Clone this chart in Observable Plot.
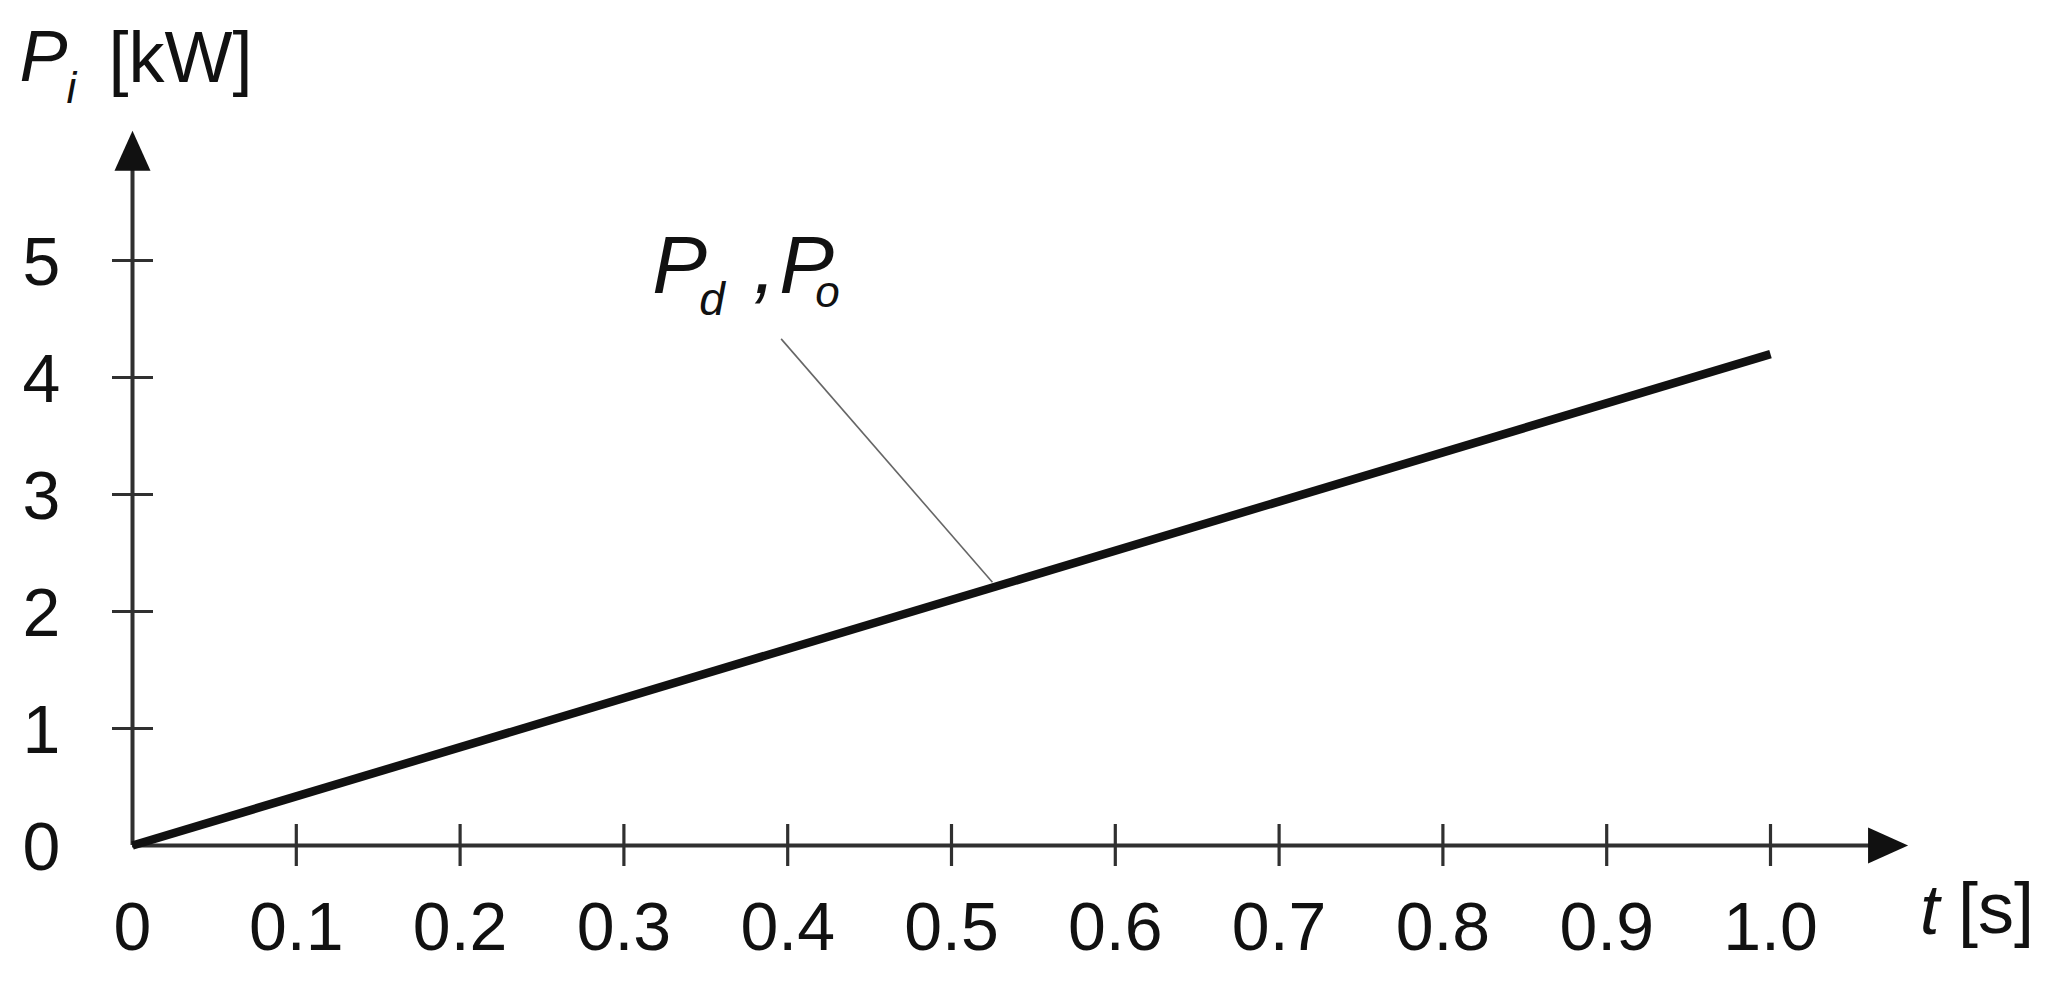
<!DOCTYPE html>
<html>
<head>
<meta charset="utf-8">
<script src="https://cdn.jsdelivr.net/npm/d3@7"></script>
<script src="https://cdn.jsdelivr.net/npm/@observablehq/plot@0.6"></script>
<style>
  html, body { margin: 0; padding: 0; background: #ffffff; }
  #chart svg { display: block; }
</style>
</head>
<body>
<div id="chart"></div>
<script>
// ---- data ----
const timeValues = [0, 1.0];          // t [s]
const powerValues = [0, 4.2];         // P_d, P_o [kW]
const xTickValues = [0.1, 0.2, 0.3, 0.4, 0.5, 0.6, 0.7, 0.8, 0.9, 1.0];
const xTickLabelValues = [0, 0.1, 0.2, 0.3, 0.4, 0.5, 0.6, 0.7, 0.8, 0.9, 1.0];
const xTickLabels = ["0", "0.1", "0.2", "0.3", "0.4", "0.5", "0.6", "0.7", "0.8", "0.9", "1.0"];
const yTickValues = [1, 2, 3, 4, 5];
const yTickLabelValues = [0, 1, 2, 3, 4, 5];
const yTickLabels = ["0", "1", "2", "3", "4", "5"];
const xAxisExtent = [0, 1.084];       // axis arrow tip
const yAxisExtent = [0, 6.11];        // axis arrow tip
const xAxisTitle = ["t", "[s]"];
const yAxisTitle = ["P", "i", "[kW]"];
const seriesLabel = ["P", "d", ",", "P", "o"];
const leaderStart = [0.396, 4.33];
const leaderEnd = [0.525, 2.25];

// ---- build ----
const curve = timeValues.map((t, i) => ({t, p: powerValues[i]}));
const FONT = "'Liberation Sans', Arial, Helvetica, sans-serif";
const AXIS = "#303030";

// filled arrowhead symbol: tip at the origin, pointing up
const arrowHead = {
  draw(ctx) {
    const L = 40, W = 36;
    ctx.moveTo(0, 0);
    ctx.lineTo(W / 2, L);
    ctx.lineTo(-W / 2, L);
    ctx.closePath();
  }
};

const xTip = xAxisExtent[1], yTip = yAxisExtent[1];
const txt = (extra) => Object.assign({text: d => d, textAnchor: "start", lineAnchor: "bottom", fontFamily: FONT, fill: "#111"}, extra);

const chart = Plot.plot({
  width: 2051,
  height: 990,
  marginLeft: 132,
  marginRight: 281,
  marginTop: 260,
  marginBottom: 145,
  x: {domain: [0, 1], axis: null},
  y: {domain: [0, 5], axis: null},
  style: {background: "#ffffff", overflow: "visible"},
  marks: [
    // axes
    Plot.ruleY([0], {x1: xAxisExtent[0], x2: xTip - 0.02, stroke: AXIS, strokeWidth: 4}),
    Plot.ruleX([0], {y1: yAxisExtent[0], y2: yTip - 0.2, stroke: AXIS, strokeWidth: 4}),
    Plot.dot([xTip], {x: d => d, y: 0, symbol: arrowHead, rotate: 90, fill: "#111", stroke: "none"}),
    Plot.dot([yTip], {x: 0, y: d => d, symbol: arrowHead, fill: "#111", stroke: "none"}),
    // tick marks crossing the axes
    Plot.ruleX(xTickValues, {x: d => d, y1: 0, y2: 0, insetTop: -21, insetBottom: -21, stroke: AXIS, strokeWidth: 3.2}),
    Plot.ruleY(yTickValues, {y: d => d, x1: 0, x2: 0, insetLeft: -20, insetRight: -21, stroke: AXIS, strokeWidth: 3.2}),
    // tick labels
    Plot.text(xTickLabelValues, {x: d => d, y: 0, text: (d, i) => xTickLabels[i], textAnchor: "middle", lineAnchor: "bottom", dy: 104, fontSize: 68, fontFamily: FONT, fill: "#111"}),
    Plot.text(yTickLabelValues, {x: 0, y: d => d, text: (d, i) => yTickLabels[i], textAnchor: "middle", lineAnchor: "middle", dx: -91, dy: 3, fontSize: 68, fontFamily: FONT, fill: "#111"}),
    // y axis title: P_i [kW]
    Plot.text([yAxisTitle[0]], txt({x: 0, y: yTip, dx: -113, dy: -50, fontSize: 72, fontStyle: "italic"})),
    Plot.text([yAxisTitle[1]], txt({x: 0, y: yTip, dx: -66, dy: -28, fontSize: 44, fontStyle: "italic"})),
    Plot.text([yAxisTitle[2]], txt({x: 0, y: yTip, dx: -24, dy: -49, fontSize: 72})),
    // x axis title: t [s]
    Plot.text([xAxisTitle[0]], txt({x: xTip, y: 0, dx: 12, dy: 88, fontSize: 70, fontStyle: "italic"})),
    Plot.text([xAxisTitle[1]], txt({x: xTip, y: 0, dx: 50, dy: 87, fontSize: 72})),
    // the P_d, P_o line
    Plot.line(curve, {x: "t", y: "p", stroke: "#111", strokeWidth: 8.5, strokeLinecap: "butt"}),
    // leader line
    Plot.link([0], {x1: leaderStart[0], y1: leaderStart[1], x2: leaderEnd[0], y2: leaderEnd[1], stroke: "#666", strokeWidth: 1.6}),
    // series label: P_d ,P_o
    Plot.text([seriesLabel[0]], txt({x: leaderStart[0], y: leaderStart[1], dx: -129, dy: -46, fontSize: 82, fontStyle: "italic"})),
    Plot.text([seriesLabel[1]], txt({x: leaderStart[0], y: leaderStart[1], dx: -82, dy: -24, fontSize: 46, fontStyle: "italic"})),
    Plot.text([seriesLabel[2]], txt({x: leaderStart[0], y: leaderStart[1], dx: -28, dy: -46, fontSize: 82, fontStyle: "italic"})),
    Plot.text([seriesLabel[3]], txt({x: leaderStart[0], y: leaderStart[1], dx: -2, dy: -46, fontSize: 82, fontStyle: "italic"})),
    Plot.text([seriesLabel[4]], txt({x: leaderStart[0], y: leaderStart[1], dx: 34, dy: -32, fontSize: 44, fontStyle: "italic"}))
  ]
});
document.getElementById("chart").append(chart);
</script>
</body>
</html>
